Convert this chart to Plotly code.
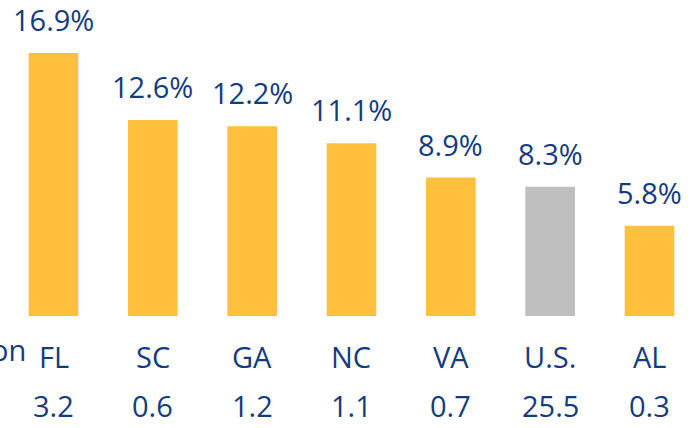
import plotly.graph_objects as go

states = ["FL", "SC", "GA", "NC", "VA", "U.S.", "AL"]
growth_pct = [16.9, 12.6, 12.2, 11.1, 8.9, 8.3, 5.8]
population_m = ["3.2", "0.6", "1.2", "1.1", "0.7", "25.5", "0.3"]
row_label = "on"

GOLD = "#FFC03D"
GRAY = "#BFBFBF"
NAVY = "#143C7C"
FONT = "Open Sans"
FS = 29

colors = [GRAY if s == "U.S." else GOLD for s in states]
xs = list(range(len(states)))

fig = go.Figure(go.Bar(
    x=xs, y=growth_pct, marker=dict(color=colors, line=dict(width=0)),
    width=0.5, hoverinfo="skip",
))

W, H = 692, 428
plot_h = 316
unit_px = 99.33
x0_px = 53.5
xmin = -x0_px / unit_px
xmax = (W - x0_px) / unit_px

ann = []
for x, v in zip(xs, growth_pct):
    ann.append(dict(x=x, y=v, xref="x", yref="y", text=f"{v}%", showarrow=False,
                    yanchor="bottom", yshift=12, font=dict(family=FONT, size=FS, color=NAVY)))
for x, s, p in zip(xs, states, population_m):
    ann.append(dict(x=x, y=-(356 - plot_h) / plot_h, xref="x", yref="paper", text=s, showarrow=False,
                    yanchor="middle", font=dict(family=FONT, size=FS, color=NAVY)))
    ann.append(dict(x=x, y=-(405 - plot_h) / plot_h, xref="x", yref="paper", text=p, showarrow=False,
                    yanchor="middle", font=dict(family=FONT, size=FS, color=NAVY)))
ann.append(dict(x=28 / W, y=-(349 - plot_h) / plot_h, xref="paper", yref="paper", text=row_label,
                showarrow=False, xanchor="right", yanchor="middle",
                font=dict(family=FONT, size=FS, color=NAVY)))

fig.update_layout(
    width=W, height=H,
    margin=dict(l=0, r=0, t=0, b=H - plot_h),
    paper_bgcolor="white", plot_bgcolor="white",
    showlegend=False,
    xaxis=dict(range=[xmin, xmax], visible=False, fixedrange=True),
    yaxis=dict(range=[0, plot_h / 15.56], visible=False, fixedrange=True),
    annotations=ann,
)
fig.write_html("out.html", config={"displayModeBar": False},
               post_script="document.body.style.margin='0px';document.body.style.overflow='hidden';")
